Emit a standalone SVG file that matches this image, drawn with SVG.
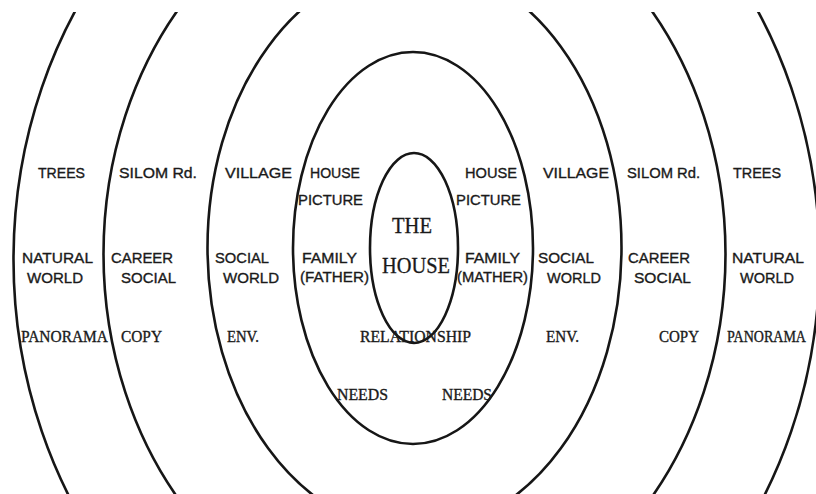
<svg xmlns="http://www.w3.org/2000/svg" width="816" height="494" viewBox="0 0 816 494">
<style>
.ring{fill:none;stroke:#161616;stroke-width:2.6}
.o{font-family:"Liberation Sans",Arial,sans-serif;font-size:15px;fill:#1a1a1a;stroke:#1a1a1a;stroke-width:0.35}
.t{font-family:"Liberation Serif","Times New Roman",serif;font-size:16px;fill:#1a1a1a;stroke:#1a1a1a;stroke-width:0.35}
.big{font-family:"Liberation Serif","Times New Roman",serif;font-size:23px;fill:#1a1a1a;stroke:#1a1a1a;stroke-width:0.3}
</style>
<defs>
<clipPath id="band"><rect x="0" y="12" width="816" height="482"/></clipPath>
</defs>
<rect width="816" height="494" fill="#ffffff"/>
<g id="rings">
<g clip-path="url(#band)">
<ellipse id="ring-outer" class="ring" cx="416.5" cy="259.5" rx="403" ry="467"/>
<ellipse id="ring-second" class="ring" cx="414.5" cy="254" rx="311" ry="376"/>
<ellipse id="ring-third" class="ring" cx="414.5" cy="247.5" rx="207" ry="284"/>
</g>
<ellipse id="ring-middle" class="ring" cx="413" cy="248" rx="120" ry="196"/>
<ellipse id="ring-inner" class="ring" cx="414" cy="248" rx="44" ry="95"/>
</g>
<g id="labels">
<text class="o" x="38" y="178" textLength="47" lengthAdjust="spacingAndGlyphs">TREES</text>
<text class="o" x="119" y="178" textLength="78" lengthAdjust="spacingAndGlyphs">SILOM  Rd.</text>
<text class="o" x="225" y="178" textLength="67" lengthAdjust="spacingAndGlyphs">VILLAGE</text>
<text class="o" x="310" y="178" textLength="50" lengthAdjust="spacingAndGlyphs">HOUSE</text>
<text class="o" x="298" y="205" textLength="65" lengthAdjust="spacingAndGlyphs">PICTURE</text>
<text class="o" x="465" y="178" textLength="52" lengthAdjust="spacingAndGlyphs">HOUSE</text>
<text class="o" x="456" y="205" textLength="65" lengthAdjust="spacingAndGlyphs">PICTURE</text>
<text class="o" x="543" y="178" textLength="66" lengthAdjust="spacingAndGlyphs">VILLAGE</text>
<text class="o" x="627" y="178" textLength="73" lengthAdjust="spacingAndGlyphs">SILOM Rd.</text>
<text class="o" x="733" y="178" textLength="48" lengthAdjust="spacingAndGlyphs">TREES</text>

<text class="o" x="22" y="263" textLength="71" lengthAdjust="spacingAndGlyphs">NATURAL</text>
<text class="o" x="27" y="283" textLength="56" lengthAdjust="spacingAndGlyphs">WORLD</text>
<text class="o" x="111" y="263" textLength="62" lengthAdjust="spacingAndGlyphs">CAREER</text>
<text class="o" x="121" y="283" textLength="55" lengthAdjust="spacingAndGlyphs">SOCIAL</text>
<text class="o" x="215" y="263" textLength="54" lengthAdjust="spacingAndGlyphs">SOCIAL</text>
<text class="o" x="223" y="283" textLength="56" lengthAdjust="spacingAndGlyphs">WORLD</text>
<text class="o" x="302" y="263" textLength="55" lengthAdjust="spacingAndGlyphs">FAMILY</text>
<text class="o" x="300" y="282" textLength="69" lengthAdjust="spacingAndGlyphs">(FATHER)</text>
<text class="o" x="465" y="263" textLength="55" lengthAdjust="spacingAndGlyphs">FAMILY</text>
<text class="o" x="457" y="282" textLength="71" lengthAdjust="spacingAndGlyphs">(MATHER)</text>
<text class="o" x="538" y="263" textLength="56" lengthAdjust="spacingAndGlyphs">SOCIAL</text>
<text class="o" x="547" y="283" textLength="54" lengthAdjust="spacingAndGlyphs">WORLD</text>
<text class="o" x="628" y="263" textLength="62" lengthAdjust="spacingAndGlyphs">CAREER</text>
<text class="o" x="634" y="283" textLength="57" lengthAdjust="spacingAndGlyphs">SOCIAL</text>
<text class="o" x="732" y="263" textLength="72" lengthAdjust="spacingAndGlyphs">NATURAL</text>
<text class="o" x="740" y="283" textLength="54" lengthAdjust="spacingAndGlyphs">WORLD</text>

<text class="big" x="392" y="233" textLength="40" lengthAdjust="spacingAndGlyphs">THE</text>
<text class="big" x="382" y="273" textLength="68" lengthAdjust="spacingAndGlyphs">HOUSE</text>

<text class="t" x="21" y="342" textLength="87" lengthAdjust="spacingAndGlyphs">PANORAMA</text>
<text class="t" x="121" y="342" textLength="41" lengthAdjust="spacingAndGlyphs">COPY</text>
<text class="t" x="227" y="342" textLength="32" lengthAdjust="spacingAndGlyphs">ENV.</text>
<text class="t" x="360" y="342" textLength="111" lengthAdjust="spacingAndGlyphs">RELATIONSHIP</text>
<text class="t" x="546" y="342" textLength="33" lengthAdjust="spacingAndGlyphs">ENV.</text>
<text class="t" x="659" y="342" textLength="40" lengthAdjust="spacingAndGlyphs">COPY</text>
<text class="t" x="727" y="342" textLength="79" lengthAdjust="spacingAndGlyphs">PANORAMA</text>
<text class="t" x="337" y="400" textLength="51" lengthAdjust="spacingAndGlyphs">NEEDS</text>
<text class="t" x="442" y="400" textLength="50" lengthAdjust="spacingAndGlyphs">NEEDS</text>
</g>
</svg>
